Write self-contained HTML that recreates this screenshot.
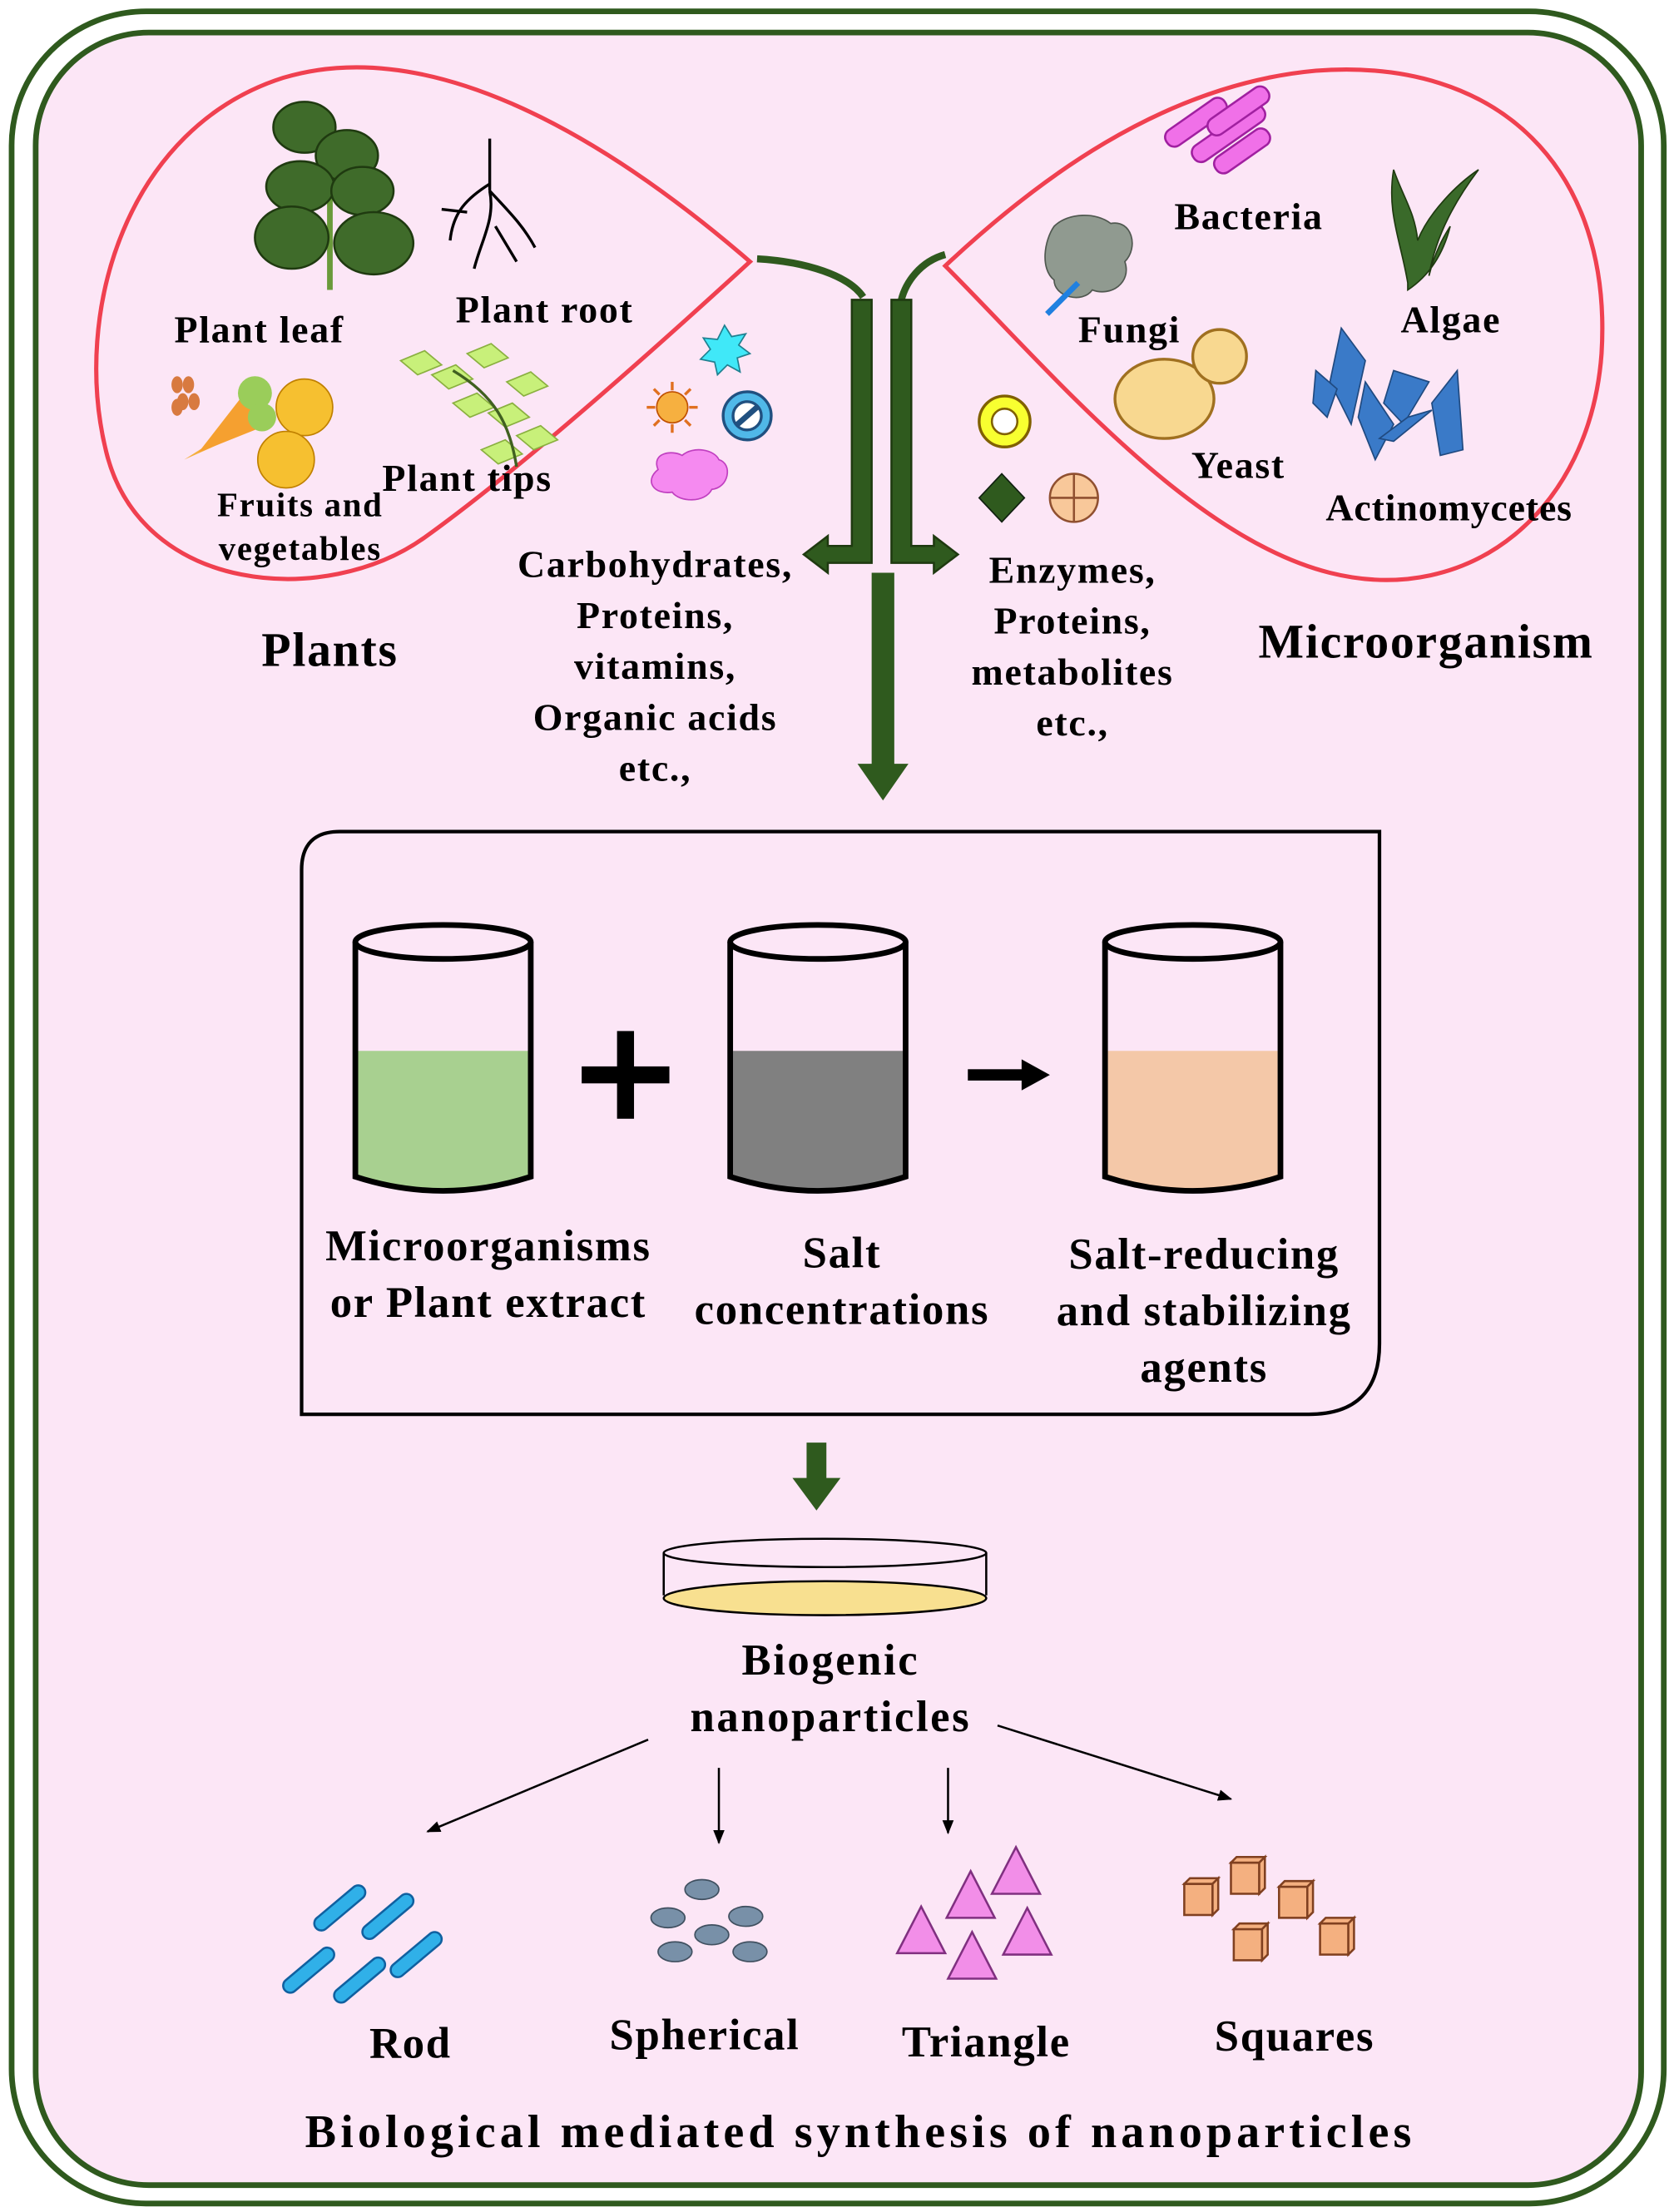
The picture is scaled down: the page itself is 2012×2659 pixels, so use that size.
<!DOCTYPE html>
<html><head><meta charset="utf-8"><style>
html,body{margin:0;padding:0;background:#fff}
svg{display:block}
text{font-family:"Liberation Serif",serif;font-weight:bold;fill:#000;letter-spacing:1px}
</style></head><body>
<svg width="2012" height="2659" viewBox="0 0 1183 1564" xmlns="http://www.w3.org/2000/svg">
<defs>
<marker id="ah" markerWidth="10" markerHeight="8" refX="9" refY="4" orient="auto" markerUnits="userSpaceOnUse"><path d="M0,0 L10,4 L0,8 Z" fill="#000"/></marker>
</defs>
<rect x="0" y="0" width="1183" height="1564" fill="#fff"/>
<rect x="8" y="8" width="1168" height="1550" rx="95" fill="#fff" stroke="#2f5a1e" stroke-width="4"/>
<rect x="25" y="23" width="1135" height="1522" rx="80" fill="#fce6f6" stroke="#2f5a1e" stroke-width="4"/>

<path d="M530,185 C470,240 370,330 300,380 C230,430 100,420 75,320 C50,220 90,90 200,55 C300,25 420,90 530,185 Z" fill="none" stroke="#f04050" stroke-width="3"/>
<path d="M668,188 C730,130 820,60 930,50 C1060,40 1140,120 1132,250 C1124,360 1040,430 940,405 C840,380 740,260 668,188 Z" fill="none" stroke="#f04050" stroke-width="3"/>

<path d="M535,183 C570,185 600,195 610,210" fill="none" stroke="#2f5a1e" stroke-width="5"/>
<path d="M668,180 C650,185 640,200 637,212" fill="none" stroke="#2f5a1e" stroke-width="5"/>
<path d="M602,212 L616,212 L616,398 L585,398 L585,405 L568,392 L585,379 L585,386 L602,386 Z" fill="#2f5a1e" stroke="#1f3a10" stroke-width="1.5"/>
<path d="M630,212 L644,212 L644,386 L660,386 L660,379 L677,392 L660,405 L660,398 L630,398 Z" fill="#2f5a1e" stroke="#1f3a10" stroke-width="1.5"/>
<path d="M616,405 L632,405 L632,540 L642,540 L624,566 L606,540 L616,540 Z" fill="#2f5a1e"/>

<g fill="#3f6b2a" stroke="#1f3a10" stroke-width="1.5">
<line x1="233" y1="85" x2="233" y2="205" stroke="#6a9a3a" stroke-width="4"/>
<ellipse cx="215" cy="90" rx="22" ry="18"/><ellipse cx="245" cy="110" rx="22" ry="18"/>
<ellipse cx="212" cy="132" rx="24" ry="18"/><ellipse cx="256" cy="135" rx="22" ry="17"/>
<ellipse cx="206" cy="168" rx="26" ry="22"/><ellipse cx="264" cy="172" rx="28" ry="22"/>
</g>
<g stroke="#000" stroke-width="2" fill="none">
<path d="M346,98 L346,135 M346,130 C330,140 320,150 318,170 M346,135 C350,155 340,170 335,190 M346,135 C360,150 370,160 378,175 M330,150 L312,148 M350,160 L365,185"/>
</g>
<g>
<path d="M130,325 L185,290 L175,305 Z" fill="#f5b040"/>
<path d="M140,320 L175,275 L190,300 Z" fill="#f5a030"/>
<circle cx="215" cy="288" r="20" fill="#f6c030" stroke="#c08000"/>
<circle cx="202" cy="325" r="20" fill="#f6c030" stroke="#c08000"/>
<circle cx="180" cy="278" r="12" fill="#9acd5a"/><circle cx="185" cy="295" r="10" fill="#9acd5a"/>
<g fill="#d87a40"><ellipse cx="125" cy="272" rx="4" ry="6"/><ellipse cx="133" cy="272" rx="4" ry="6"/><ellipse cx="129" cy="284" rx="4" ry="6"/><ellipse cx="137" cy="284" rx="4" ry="6"/><ellipse cx="125" cy="288" rx="4" ry="6"/></g>
</g>
<g fill="#c8f07a" stroke="#8ab040">
<path d="M283,255 L300,248 L312,258 L295,265 Z"/><path d="M305,265 L322,258 L334,268 L317,275 Z"/>
<path d="M320,285 L337,278 L349,288 L332,295 Z"/><path d="M345,292 L362,285 L374,295 L357,302 Z"/>
<path d="M330,250 L347,243 L359,253 L342,260 Z"/><path d="M365,308 L382,301 L394,311 L377,318 Z"/>
<path d="M340,318 L357,311 L369,321 L352,328 Z"/><path d="M358,270 L375,263 L387,273 L370,280 Z"/>
</g>
<path d="M320,262 C350,280 360,300 365,330" stroke="#406020" stroke-width="2" fill="none"/>

<polygon points="512,230 517,238 527,236 522,244 530,250 521,253 523,263 514,258 507,265 505,256 495,254 502,247 497,239 507,240" fill="#40e8f8" stroke="#208090"/>
<circle cx="475" cy="288" r="11" fill="#f6b040" stroke="#c05000"/>
<g stroke="#e07020" stroke-width="2"><line x1="475" y1="270" x2="475" y2="276"/><line x1="475" y1="300" x2="475" y2="306"/><line x1="457" y1="288" x2="463" y2="288"/><line x1="487" y1="288" x2="493" y2="288"/><line x1="462" y1="275" x2="466" y2="279"/><line x1="484" y1="297" x2="488" y2="301"/><line x1="488" y1="275" x2="484" y2="279"/><line x1="462" y1="301" x2="466" y2="297"/></g>
<circle cx="528" cy="294" r="17" fill="#50b8e8" stroke="#205080" stroke-width="2"/>
<circle cx="528" cy="294" r="10" fill="#fff" stroke="#205080" stroke-width="2"/>
<line x1="520" y1="301" x2="536" y2="287" stroke="#205080" stroke-width="4"/>
<path d="M465,332 C460,320 475,318 482,322 C490,315 505,318 508,325 C518,328 515,345 503,346 C498,356 480,355 475,348 C462,350 455,340 465,332 Z" fill="#f58af0" stroke="#c040c0"/>
<circle cx="710" cy="298" r="18" fill="#f8ff30" stroke="#806000" stroke-width="2"/>
<circle cx="710" cy="298" r="9" fill="#fff" stroke="#806000" stroke-width="1.5"/>
<polygon points="708,335 724,352 708,369 692,352" fill="#2f5a1e" stroke="#102010"/>
<circle cx="759" cy="352" r="17" fill="#f8c89a" stroke="#905030" stroke-width="1.5"/>
<line x1="742" y1="352" x2="776" y2="352" stroke="#905030" stroke-width="1.5"/>
<line x1="759" y1="335" x2="759" y2="369" stroke="#905030" stroke-width="1.5"/>

<g fill="#f070e8" stroke="#a020a0" stroke-width="1.5">
<rect x="820" y="80" width="50" height="13" rx="6" transform="rotate(-35 845 86)"/>
<rect x="838" y="88" width="60" height="13" rx="6" transform="rotate(-35 868 94)"/>
<rect x="850" y="72" width="50" height="13" rx="6" transform="rotate(-35 875 78)"/>
<rect x="855" y="100" width="45" height="13" rx="6" transform="rotate(-35 878 106)"/>
</g>
<path d="M995,200 C990,170 980,150 985,120 C992,140 1000,150 1002,170 C1010,150 1030,130 1045,120 C1030,140 1015,165 1010,195 C1015,175 1022,165 1025,160 C1020,180 1010,195 995,205 Z" fill="#3a6a2a" stroke="#1f3a10"/>
<path d="M745,160 C755,150 775,150 785,158 C800,155 805,175 795,185 C800,200 785,210 772,205 C765,215 745,210 745,198 C735,190 738,170 745,160 Z" fill="#909a90" stroke="#505850"/>
<line x1="762" y1="200" x2="740" y2="222" stroke="#2080e0" stroke-width="4"/>
<ellipse cx="823" cy="282" rx="35" ry="28" fill="#f8d890" stroke="#a07020" stroke-width="2"/>
<circle cx="862" cy="252" r="19" fill="#f8d890" stroke="#a07020" stroke-width="2"/>
<g fill="#3a7ac8" stroke="#204a80">
<polygon points="948,232 965,255 955,300 940,270"/><polygon points="965,270 985,300 972,325 960,295"/>
<polygon points="985,262 1010,270 992,300 978,285"/><polygon points="1012,285 1030,262 1034,318 1018,322"/>
<polygon points="995,295 1012,290 985,312 975,310"/><polygon points="930,262 945,275 938,295 928,285"/>
</g>

<g font-size="27">
<text x="123" y="242">Plant leaf</text>
<text x="322" y="228">Plant root</text>
<text x="270" y="347">Plant tips</text>
<text x="830" y="162">Bacteria</text>
<text x="990" y="235">Algae</text>
<text x="762" y="242">Fungi</text>
<text x="842" y="338">Yeast</text>
<text x="937" y="368" style="letter-spacing:0.5px">Actinomycetes</text>
</g>
<g font-size="24" text-anchor="middle">
<text x="212" y="365">Fruits and</text><text x="212" y="396">vegetables</text>
</g>
<g font-size="27" text-anchor="middle">
<text x="463" y="408">Carbohydrates,</text><text x="463" y="444">Proteins,</text>
<text x="463" y="480">vitamins,</text><text x="463" y="516">Organic acids</text>
<text x="463" y="552">etc.,</text>
<text x="758" y="412">Enzymes,</text><text x="758" y="448">Proteins,</text>
<text x="758" y="484">metabolites</text><text x="758" y="520">etc.,</text>
</g>
<text x="233" y="471" font-size="34" text-anchor="middle">Plants</text>
<text x="1008" y="465" font-size="34" text-anchor="middle">Microorganism</text>

<path d="M240,588 L975,588 L975,950 Q975,1000 925,1000 L213,1000 L213,615 Q213,588 240,588 Z" fill="none" stroke="#000" stroke-width="2.5"/>

<g stroke="#000" stroke-width="4">
<path d="M253,743 L373,743 L373,832 Q313,850 253,832 Z" fill="#a8d090" stroke="none"/>
<ellipse cx="313" cy="666" rx="62" ry="12" fill="none"/>
<path d="M251,666 L251,832 Q313,852 375,832 L375,666" fill="none"/>
<path d="M518,743 L638,743 L638,832 Q578,850 518,832 Z" fill="#808080" stroke="none"/>
<ellipse cx="578" cy="666" rx="62" ry="12" fill="none"/>
<path d="M516,666 L516,832 Q578,852 640,832 L640,666" fill="none"/>
<path d="M783,743 L903,743 L903,832 Q843,850 783,832 Z" fill="#f4c8a8" stroke="none"/>
<ellipse cx="843" cy="666" rx="62" ry="12" fill="none"/>
<path d="M781,666 L781,832 Q843,852 905,832 L905,666" fill="none"/>
</g>
<rect x="411" y="754" width="62" height="12" fill="#000"/>
<rect x="436" y="729" width="12" height="62" fill="#000"/>
<rect x="684" y="756" width="40" height="8" fill="#000"/>
<polygon points="722,749 742,760 722,771" fill="#000"/>

<g font-size="31" text-anchor="middle" style="letter-spacing:1.5px">
<text x="345" y="891">Microorganisms</text><text x="345" y="931">or Plant extract</text>
<text x="595" y="896">Salt</text><text x="595" y="936">concentrations</text>
<text x="851" y="897">Salt-reducing</text><text x="851" y="937">and stabilizing</text><text x="851" y="977">agents</text>
</g>

<path d="M570,1020 L584,1020 L584,1045 L594,1045 L577,1068 L560,1045 L570,1045 Z" fill="#2f5a1e"/>
<ellipse cx="583" cy="1130" rx="114" ry="12" fill="#f8e090" stroke="#000" stroke-width="1.5"/>
<path d="M469,1098 L469,1128 M697,1098 L697,1128" stroke="#000" stroke-width="1.5"/>
<ellipse cx="583" cy="1098" rx="114" ry="10" fill="none" stroke="#000" stroke-width="1.5"/>
<text x="587" y="1184" font-size="31" text-anchor="middle" style="letter-spacing:1.5px">Biogenic</text>
<text x="587" y="1224" font-size="31" text-anchor="middle" style="letter-spacing:1.5px">nanoparticles</text>

<g stroke="#000" stroke-width="1.5" marker-end="url(#ah)">
<line x1="458" y1="1230" x2="302" y2="1295"/>
<line x1="508" y1="1250" x2="508" y2="1303"/>
<line x1="670" y1="1250" x2="670" y2="1296"/>
<line x1="705" y1="1220" x2="870" y2="1272"/>
</g>

<g fill="#30b0e8" stroke="#1060a0" stroke-width="1.5">
<rect x="218" y="1344" width="44" height="10" rx="5" transform="rotate(-40 240 1349)"/>
<rect x="252" y="1350" width="44" height="10" rx="5" transform="rotate(-40 274 1355)"/>
<rect x="196" y="1388" width="44" height="10" rx="5" transform="rotate(-40 218 1393)"/>
<rect x="232" y="1395" width="44" height="10" rx="5" transform="rotate(-40 254 1400)"/>
<rect x="272" y="1377" width="44" height="10" rx="5" transform="rotate(-40 294 1382)"/>
</g>
<g fill="#7890a8" stroke="#405060">
<ellipse cx="496" cy="1336" rx="12" ry="7"/><ellipse cx="472" cy="1356" rx="12" ry="7"/>
<ellipse cx="527" cy="1355" rx="12" ry="7"/><ellipse cx="503" cy="1368" rx="12" ry="7"/>
<ellipse cx="477" cy="1380" rx="12" ry="7"/><ellipse cx="530" cy="1380" rx="12" ry="7"/>
</g>
<g fill="#f28ee8" stroke="#803080" stroke-width="1.5">
<polygon points="686,1323 703,1356 669,1356"/><polygon points="718,1306 735,1339 701,1339"/>
<polygon points="651,1348 668,1381 634,1381"/><polygon points="726,1349 743,1382 709,1382"/>
<polygon points="687,1366 704,1399 670,1399"/>
</g>
<g fill="#f4b080" stroke="#804020" stroke-width="1.5">
<g transform="translate(837,1328)"><rect x="0" y="4" width="20" height="22"/><polygon points="0,4 4,0 24,0 20,4"/><polygon points="20,4 24,0 24,22 20,26"/></g>
<g transform="translate(870,1313)"><rect x="0" y="4" width="20" height="22"/><polygon points="0,4 4,0 24,0 20,4"/><polygon points="20,4 24,0 24,22 20,26"/></g>
<g transform="translate(904,1330)"><rect x="0" y="4" width="20" height="22"/><polygon points="0,4 4,0 24,0 20,4"/><polygon points="20,4 24,0 24,22 20,26"/></g>
<g transform="translate(872,1360)"><rect x="0" y="4" width="20" height="22"/><polygon points="0,4 4,0 24,0 20,4"/><polygon points="20,4 24,0 24,22 20,26"/></g>
<g transform="translate(933,1356)"><rect x="0" y="4" width="20" height="22"/><polygon points="0,4 4,0 24,0 20,4"/><polygon points="20,4 24,0 24,22 20,26"/></g>
</g>

<g font-size="31" text-anchor="middle" style="letter-spacing:1.5px">
<text x="290" y="1455">Rod</text>
<text x="498" y="1449">Spherical</text>
<text x="697" y="1454">Triangle</text>
<text x="915" y="1450">Squares</text>
</g>
<text x="608" y="1518" font-size="33" text-anchor="middle" style="letter-spacing:3px">Biological mediated synthesis of  nanoparticles</text>
</svg>
</body></html>
